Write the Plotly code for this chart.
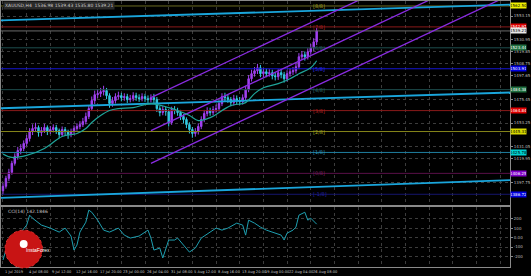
import plotly.graph_objects as go

# ---------------- data ----------------
closes = [1394.2, 1401.6, 1407.2, 1415.6, 1422.1, 1427.6, 1429.5, 1434.2, 1438.8, 1445.3,
          1448.1, 1449.0, 1444.4, 1446.2, 1449.0, 1445.3, 1447.2, 1449.0, 1446.2, 1442.5,
          1447.2, 1445.3, 1442.5, 1445.3, 1448.1, 1450.0, 1451.8, 1454.6, 1459.3, 1466.7,
          1474.2, 1479.7, 1480.7, 1482.5, 1483.5, 1478.8, 1471.4, 1474.2, 1477.9, 1478.8,
          1476.9, 1477.9, 1475.1, 1476.0, 1478.8, 1476.9, 1476.0, 1477.9, 1476.0, 1475.1,
          1476.9, 1475.1, 1466.7, 1463.0, 1465.8, 1463.9, 1453.7, 1465.8, 1464.9, 1463.0,
          1459.3, 1456.5, 1451.8, 1447.2, 1443.5, 1445.3, 1450.0, 1456.5, 1462.1, 1464.9,
          1463.0, 1465.8, 1466.7, 1471.4, 1477.9, 1476.9, 1475.1, 1472.3, 1476.0, 1474.2,
          1473.2, 1476.9, 1484.4, 1494.6, 1499.3, 1502.0, 1504.8, 1499.3, 1501.1, 1499.3,
          1500.2, 1497.4, 1496.5, 1500.2, 1498.3, 1494.6, 1499.3, 1501.1, 1502.0, 1505.8,
          1515.1, 1516.9, 1515.1, 1519.7, 1523.4, 1529.0, 1539.2]
highs = [1397.0, 1404.0, 1410.5, 1418.0, 1425.0, 1431.0, 1433.5, 1437.0, 1442.0, 1448.5,
         1452.0, 1453.5, 1451.0, 1449.5, 1452.5, 1451.0, 1450.5, 1452.0, 1451.5, 1448.0,
         1450.0, 1449.5, 1447.0, 1448.0, 1451.0, 1453.0, 1455.0, 1458.0, 1463.0, 1470.0,
         1478.0, 1483.5, 1485.0, 1486.0, 1488.0, 1486.0, 1481.0, 1477.5, 1481.0, 1482.5,
         1481.5, 1481.0, 1480.5, 1479.5, 1482.0, 1481.5, 1480.0, 1481.0, 1480.5, 1479.0,
         1480.0, 1480.5, 1477.5, 1469.0, 1469.0, 1468.5, 1466.0, 1468.5, 1469.0, 1467.5,
         1465.5, 1461.5, 1458.5, 1454.0, 1449.5, 1448.5, 1453.0, 1459.5, 1465.5, 1468.0,
         1467.5, 1469.0, 1470.5, 1474.5, 1481.0, 1481.5, 1480.0, 1477.5, 1479.5, 1479.0,
         1477.5, 1480.0, 1488.0, 1498.0, 1503.0, 1505.5, 1508.5, 1507.5, 1504.5, 1504.0,
         1503.5, 1503.0, 1500.5, 1503.5, 1503.0, 1501.0, 1502.5, 1504.5, 1505.5, 1509.0,
         1518.5, 1520.5, 1520.0, 1523.0, 1527.0, 1532.5, 1542.0]
lows = [1386.5, 1392.0, 1399.0, 1405.0, 1413.5, 1419.0, 1424.0, 1427.0, 1431.5, 1436.0,
        1442.0, 1445.0, 1440.5, 1441.0, 1444.0, 1442.0, 1443.0, 1444.5, 1443.0, 1439.0,
        1440.5, 1442.0, 1438.5, 1440.0, 1443.0, 1446.0, 1447.5, 1449.5, 1452.0, 1457.0,
        1464.5, 1471.0, 1476.5, 1477.5, 1479.0, 1475.5, 1467.5, 1468.5, 1471.5, 1475.0,
        1473.5, 1474.0, 1472.0, 1472.5, 1473.5, 1474.0, 1473.0, 1473.5, 1473.0, 1472.0,
        1472.5, 1472.0, 1463.5, 1459.5, 1460.5, 1460.0, 1450.0, 1451.5, 1461.5, 1460.0,
        1456.0, 1453.0, 1448.5, 1443.5, 1439.5, 1440.5, 1442.5, 1447.5, 1454.0, 1459.5,
        1460.0, 1460.5, 1463.0, 1464.0, 1469.0, 1473.5, 1472.0, 1469.0, 1469.5, 1471.0,
        1470.0, 1470.5, 1474.5, 1482.0, 1492.0, 1496.5, 1499.0, 1496.0, 1496.0, 1496.0,
        1496.5, 1494.0, 1493.0, 1493.5, 1495.0, 1491.0, 1492.0, 1496.5, 1498.0, 1499.5,
        1503.5, 1512.0, 1511.5, 1512.5, 1517.0, 1520.5, 1526.0]
first_open = 1390.0
opens = [first_open] + closes[:-1]
bars = list(range(len(closes)))

ma_bars = [0, 3, 8, 14, 20, 25, 28, 30, 33, 36, 39, 44, 50, 56, 59, 63, 66, 70, 77, 82, 85,
           88, 93, 97, 100, 104, 106]
ma_vals = [1424.4, 1421.1, 1423.0, 1429.5, 1440.7, 1443.5, 1448.1, 1453.7, 1460.2, 1464.9,
           1466.7, 1467.6, 1471.4, 1467.6, 1464.9, 1460.2, 1455.5, 1458.3, 1469.5, 1472.3,
           1480.7, 1486.2, 1490.0, 1494.6, 1499.3, 1504.8, 1511.4]

murrey_names = ["[-1/8]", "[0/8]", "[1/8]", "[2/8]", "[3/8]", "[4/8]", "[5/8]", "[6/8]", "[7/8]", "[8/8]"]
murrey_levels = [1386.72, 1406.25, 1425.78, 1445.31, 1464.84, 1484.38, 1503.91, 1523.44, 1542.97, 1562.50]
murrey_line_colors = ["#15156e", "#5a1048", "#1f7fa0", "#86861a", "#8b1a1a", "#1e4f4f",
                      "#1414d0", "#1e4f4f", "#8b1a1a", "#6b6b20"]
murrey_tag_colors = ["#0000e0", "#8000c8", "#00d0d0", "#d8d800", "#e00000", "#207040",
                     "#0000e0", "#207040", "#e00000", "#f0f000"]
murrey_text_colors = ["#2020a0", "#7a2060", "#2f8fb0", "#a0a020", "#b02020", "#2f6a6a",
                      "#3030ff", "#2f6a6a", "#b02020", "#a0a020"]

bid_price = 1539.21

trend_x = [-1, 172]
trend_top = [1549.0, 1563.8]
trend_mid = [1467.0, 1481.8]
trend_low = [1383.3, 1400.0]

chan_x = [50, 172]
chan_upper = [1476.9, 1635.0]
chan_mid = [1446.2, 1604.3]
chan_low = [1415.6, 1573.7]

cci_bars = [0, 1, 4, 8, 9, 10, 13, 16, 19, 21, 23, 24, 25, 26, 28, 29, 30, 32, 34, 36, 39, 41,
            43, 46, 49, 50, 51, 53, 54, 56, 58, 59, 61, 63, 64, 65, 67, 70, 72, 74, 76, 79, 81,
            82, 83, 85, 87, 89, 92, 94, 95, 96, 98, 99, 100, 102, 103, 104, 106]
cci_vals = [-237, -132, -26, 132, 237, 205, 132, 100, 58, 100, 16, -132, -79, 58, 163, 290,
            268, 184, 79, 58, 100, 26, -5, 16, 79, -5, -132, -111, -216, -26, -26, -5, -79,
            -153, -132, -111, -5, 58, 100, 79, 100, 153, 132, 26, 184, 153, 111, 79, 47, 26,
            -26, 47, 79, 111, 237, 268, 184, 205, 142]

price_ticks = [1553.15, 1530.95, 1519.85, 1508.75, 1497.65, 1475.45, 1453.25, 1431.05,
               1419.95, 1397.75]
cci_ticks = [-200, -100, 0, 100, 200]
cci_tick_text = ["-200", "-100", "0.00", "100", "200"]

date_ticks = [0, 8, 16, 24, 32, 40, 48, 56, 64, 72, 80, 88, 96, 104]
date_labels = ["1 Jul 2019", "4 Jul 08:00", "9 Jul 12:00", "12 Jul 16:00", "17 Jul 20:00",
               "23 Jul 00:00", "26 Jul 04:00", "31 Jul 08:00", "5 Aug 12:00", "8 Aug 16:00",
               "13 Aug 20:00", "19 Aug 00:00", "22 Aug 04:00", "26 Aug 08:00"]
grid_ticks = list(range(0, 172, 8))

header_text = "XAUUSD,H4  1536.98 1539.43 1535.80 1539.21"
cci_title = "CCI(14) 142.1846"

# ---------------- figure ----------------
W, H = 531, 276
ML, MR, MT, MB = 0, 15, 0, 9
X_RANGE = [-0.667, 171.33]
Y_RANGE = [1376.5, 1567.15]
CCI_RANGE = [-311, 321]

fig = go.Figure()

for lvl, col in zip(murrey_levels, murrey_line_colors):
    fig.add_trace(go.Scatter(x=X_RANGE, y=[lvl, lvl], mode="lines",
                             line=dict(color=col, width=1), hoverinfo="skip",
                             showlegend=False, xaxis="x", yaxis="y"))
fig.add_trace(go.Scatter(x=X_RANGE, y=[bid_price, bid_price], mode="lines",
                         line=dict(color="#6a6a6a", width=1), showlegend=False,
                         xaxis="x", yaxis="y"))
for ys in (trend_top, trend_mid, trend_low):
    fig.add_trace(go.Scatter(x=trend_x, y=ys, mode="lines",
                             line=dict(color="#1aa6dc", width=1.8), showlegend=False,
                             xaxis="x", yaxis="y"))
for ys in (chan_upper, chan_mid, chan_low):
    fig.add_trace(go.Scatter(x=chan_x, y=ys, mode="lines",
                             line=dict(color="#8a2be2", width=1.3), showlegend=False,
                             xaxis="x", yaxis="y"))
fig.add_trace(go.Scatter(x=ma_bars, y=ma_vals, mode="lines", line_shape="spline",
                         line=dict(color="#1fa59a", width=1.2), showlegend=False,
                         xaxis="x", yaxis="y"))
fig.add_trace(go.Candlestick(x=bars, open=opens, high=highs, low=lows, close=closes,
                             increasing=dict(line=dict(color="#a040f0", width=1), fillcolor="#a040f0"),
                             decreasing=dict(line=dict(color="#33c8e0", width=1), fillcolor="#33c8e0"),
                             whiskerwidth=0, showlegend=False, xaxis="x", yaxis="y"))
fig.add_trace(go.Scatter(x=cci_bars, y=cci_vals, mode="lines",
                         line=dict(color="#1e9fb0", width=1), showlegend=False,
                         xaxis="x2", yaxis="y2"))

annotations = []
for name, lvl, tag, tcol in zip(murrey_names, murrey_levels, murrey_tag_colors, murrey_text_colors):
    dark_tag = tag in ("#0000e0", "#8000c8", "#e00000", "#207040")
    annotations.append(dict(xref="paper", x=1.0, xanchor="left", yref="y", y=lvl,
                            text=f"{lvl:.2f}", showarrow=False, bgcolor=tag, width=15,
                            borderpad=0, font=dict(size=4, color="#ffffff" if dark_tag else "#000000")))
    annotations.append(dict(xref="x", x=104, xanchor="left", yref="y", y=lvl, text=name,
                            showarrow=False, font=dict(size=5, color=tcol)))
annotations.append(dict(xref="paper", x=1.0, xanchor="left", yref="y", y=bid_price,
                        text=f"{bid_price:.2f}", showarrow=False, bgcolor="#e8e8e8", width=15,
                        borderpad=0, font=dict(size=4, color="#000000")))
for t, lab in zip(date_ticks, date_labels):
    annotations.append(dict(xref="x2", x=t, xanchor="left", yref="paper", y=0, yanchor="top",
                            yshift=-1, text=lab, showarrow=False,
                            font=dict(size=3.6, color="#c8c8c8")))
annotations.append(dict(xref="paper", x=0.004, xanchor="left", yref="paper", y=1.0,
                        yanchor="top", text=header_text, showarrow=False, bgcolor="#2a2a2a",
                        font=dict(size=4.5, color="#d0d0d0")))
annotations.append(dict(xref="paper", x=0.01, xanchor="left", yref="y2", y=CCI_RANGE[1],
                        yanchor="top", text=cci_title, showarrow=False,
                        font=dict(size=4.5, color="#c8c8c8")))
annotations.append(dict(xref="paper", x=23 / 516, yref="paper", y=(267 - 255) / 267,
                        text="InstaForex", showarrow=False,
                        font=dict(size=5, color="#ffffff", family="Arial")))

shapes = [
    dict(type="circle", xref="paper", yref="paper", layer="above",
         x0=4 / 516, x1=42 / 516, y0=(267 - 268) / 267, y1=(267 - 230) / 267,
         fillcolor="#c81414", line=dict(color="#e03030", width=1, dash="dot")),
    dict(type="circle", xref="paper", yref="paper", layer="above",
         x0=19 / 516, x1=27 / 516, y0=(267 - 248) / 267, y1=(267 - 240) / 267,
         fillcolor="#ffffff", line=dict(width=0)),
]

grid = dict(showgrid=True, gridcolor="#3c3c3c", griddash="dot", gridwidth=1)
fig.update_layout(
    width=W, height=H, margin=dict(l=ML, r=MR, t=MT, b=MB),
    paper_bgcolor="#000000", plot_bgcolor="#000000",
    showlegend=False, annotations=annotations, shapes=shapes,
    xaxis=dict(domain=[0, 1], anchor="y", range=X_RANGE, tickvals=grid_ticks,
               showticklabels=False, ticks="", zeroline=False, rangeslider=dict(visible=False),
               showline=True, mirror=True, linecolor="#8a8a8a", linewidth=1, **grid),
    xaxis2=dict(domain=[0, 1], anchor="y2", range=X_RANGE, matches="x", tickvals=grid_ticks,
                showticklabels=False, ticks="", zeroline=False,
                showline=True, mirror=True, linecolor="#8a8a8a", linewidth=1, **grid),
    yaxis=dict(domain=[62 / 267, 1], range=Y_RANGE, side="right", tickvals=price_ticks,
               tickformat=".2f", tickfont=dict(size=4, color="#bdbdbd"), ticks="outside",
               ticklen=2, tickcolor="#8a8a8a", zeroline=False,
               showline=True, mirror=True, linecolor="#8a8a8a", linewidth=1, **grid),
    yaxis2=dict(domain=[0, 60 / 267], range=CCI_RANGE, side="right", tickvals=cci_ticks,
                ticktext=cci_tick_text, tickfont=dict(size=4, color="#bdbdbd"), ticks="outside",
                ticklen=2, tickcolor="#8a8a8a", zeroline=False,
                showline=True, mirror=True, linecolor="#8a8a8a", linewidth=1, **grid),
    font=dict(family="DejaVu Sans"),
)

fig.write_html("out.html")
